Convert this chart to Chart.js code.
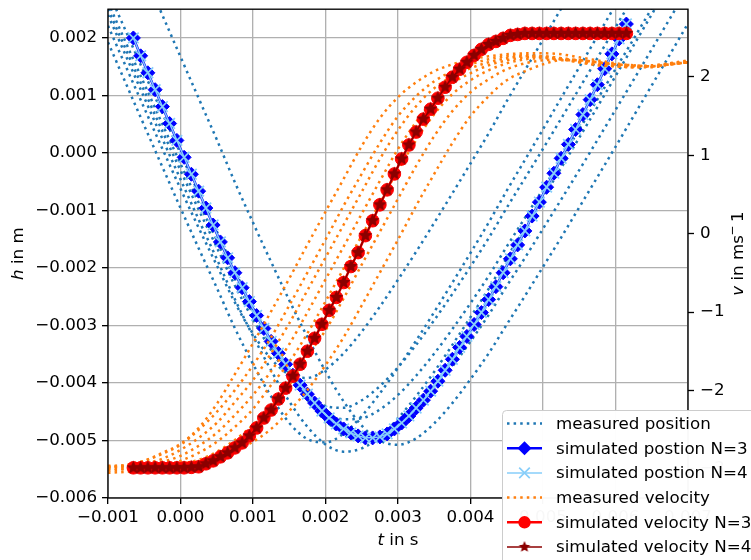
<!DOCTYPE html>
<html>
<head>
<meta charset="utf-8">
<script src="https://cdn.jsdelivr.net/npm/chart.js@4.4.1/dist/chart.umd.min.js"></script>
<style>
    html, body { margin: 0; padding: 0; background: #ffffff; }
    #grafico_queda { display: block; }
</style>
</head>
<body>
<canvas id="grafico_queda" width="751" height="560"></canvas>
<script>
/*Tempos das amostras (s)*/
const t_simulado = [
    -0.00065, -0.00055, -0.00045, -0.00035, -0.00025, -0.00015, -0.00005, 0.00005, 0.00015, 0.00025,
    0.00035, 0.00045, 0.00055, 0.00065, 0.00075, 0.00085, 0.00095, 0.00105, 0.00115, 0.00125,
    0.00135, 0.00145, 0.00155, 0.00165, 0.00175, 0.00185, 0.00195, 0.00205, 0.00215, 0.00225,
    0.00235, 0.00245, 0.00255, 0.00265, 0.00275, 0.00285, 0.00295, 0.00305, 0.00315, 0.00325,
    0.00335, 0.00345, 0.00355, 0.00365, 0.00375, 0.00385, 0.00395, 0.00405, 0.00415, 0.00425,
    0.00435, 0.00445, 0.00455, 0.00465, 0.00475, 0.00485, 0.00495, 0.00505, 0.00515, 0.00525,
    0.00535, 0.00545, 0.00555, 0.00565, 0.00575, 0.00585, 0.00595, 0.00605, 0.00615
];

const t_medido = [
    -0.001, -0.00075, -0.0005, -0.00025, 0, 0.00025, 0.0005, 0.00075, 0.001, 0.00125, 0.0015,
    0.00175, 0.002, 0.00225, 0.0025, 0.00275, 0.003, 0.00325, 0.0035, 0.00375, 0.004, 0.00425,
    0.0045, 0.00475, 0.005, 0.00525, 0.0055, 0.00575, 0.006, 0.00625, 0.0065, 0.00675, 0.007
];

/*Posição simulada (m)*/
const pos_sim_n3 = [
    0.00200, 0.001689, 0.001394, 0.001100, 0.000806, 0.000512, 0.000218, -0.000076, -0.000370, -0.000664,
    -0.000958, -0.001253, -0.001547, -0.001824, -0.002083, -0.002343, -0.002585, -0.002827, -0.003052, -0.003277,
    -0.003484, -0.003675, -0.003865, -0.004038, -0.004194, -0.004349, -0.004488, -0.004609, -0.004713, -0.004799,
    -0.004869, -0.004920, -0.004955, -0.004955, -0.004938, -0.004886, -0.004799, -0.004696, -0.004574, -0.004436,
    -0.004298, -0.004142, -0.003969, -0.003779, -0.003588, -0.003381, -0.003190, -0.002983, -0.002775, -0.002550,
    -0.002325, -0.002083, -0.001841, -0.001599, -0.001356, -0.001097, -0.000855, -0.000595, -0.000353, -0.000093,
    0.000149, 0.000408, 0.000668, 0.000927, 0.001187, 0.001464, 0.001723, 0.001983, 0.002242
];
const pos_sim_n4 = [
    0.00200, 0.001690, 0.001395, 0.001101, 0.000807, 0.000513, 0.000219, -0.000075, -0.000369, -0.000663,
    -0.000957, -0.001252, -0.001546, -0.001823, -0.002082, -0.002342, -0.002584, -0.002826, -0.003051, -0.003276,
    -0.003483, -0.003674, -0.003864, -0.004037, -0.004193, -0.004348, -0.004487, -0.004608, -0.004712, -0.004798,
    -0.004868, -0.004919, -0.004954, -0.004954, -0.004937, -0.004885, -0.004798, -0.004695, -0.004573, -0.004435,
    -0.004297, -0.004141, -0.003968, -0.003778, -0.003587, -0.003380, -0.003189, -0.002982, -0.002774, -0.002549,
    -0.002324, -0.002082, -0.001840, -0.001598, -0.001355, -0.001096, -0.000854, -0.000594, -0.000352, -0.000092,
    0.000150, 0.000409, 0.000669, 0.000928, 0.001188, 0.001465, 0.001724, 0.001984, 0.002243
];

/*Velocidade simulada (m/s)*/
const vel_sim_n3 = [
    -2.986, -2.986, -2.986, -2.986, -2.986, -2.986, -2.986, -2.986, -2.980, -2.973,
    -2.935, -2.897, -2.846, -2.795, -2.732, -2.668, -2.579, -2.478, -2.351, -2.249,
    -2.109, -1.970, -1.817, -1.665, -1.499, -1.334, -1.156, -0.978, -0.813, -0.623,
    -0.419, -0.241, -0.025, 0.165, 0.368, 0.559, 0.762, 0.953, 1.131, 1.296,
    1.461, 1.588, 1.728, 1.868, 1.995, 2.097, 2.186, 2.274, 2.351, 2.414,
    2.452, 2.491, 2.529, 2.541, 2.554, 2.554, 2.554, 2.554, 2.554, 2.554,
    2.554, 2.554, 2.554, 2.554, 2.554, 2.554, 2.554, 2.554, 2.554
];
const vel_sim_n4 = [
    -2.986, -2.986, -2.986, -2.986, -2.986, -2.986, -2.986, -2.985, -2.979, -2.972,
    -2.934, -2.896, -2.845, -2.794, -2.731, -2.667, -2.578, -2.477, -2.350, -2.248,
    -2.108, -1.969, -1.816, -1.664, -1.498, -1.333, -1.155, -0.977, -0.812, -0.622,
    -0.418, -0.240, -0.024, 0.166, 0.369, 0.560, 0.763, 0.954, 1.132, 1.297,
    1.462, 1.589, 1.729, 1.869, 1.996, 2.098, 2.187, 2.275, 2.352, 2.415,
    2.453, 2.492, 2.530, 2.542, 2.555, 2.555, 2.555, 2.555, 2.555, 2.555,
    2.555, 2.555, 2.555, 2.555, 2.555, 2.555, 2.555, 2.555, 2.555
];

/*Posições medidas (m), uma lista por ensaio*/
const pos_med_1 = [0.001927, 0.001199, 0.000476, -0.000242, -0.000957, -0.001657, -0.002344, -0.003047, -0.003670, -0.004234, -0.004694, -0.004974, -0.005033, -0.004879, -0.004574, -0.004180, -0.003737, -0.003263, -0.002765, -0.002256, -0.001739, -0.001211, -0.000656, -0.000123, 0.000413, 0.000955, 0.001491, 0.002031, 0.002576, 0.003119, 0.003664, 0.004208, 0.004753];
const pos_med_2 = [0.002401, 0.001680, 0.000962, 0.000247, -0.000458, -0.001157, -0.001841, -0.002543, -0.003183, -0.003780, -0.004320, -0.004761, -0.005069, -0.005194, -0.005138, -0.004934, -0.004616, -0.004230, -0.003803, -0.003337, -0.002855, -0.002362, -0.001824, -0.001308, -0.000785, -0.000260, 0.000266, 0.000799, 0.001336, 0.001872, 0.002410, 0.002950, 0.003490];
const pos_med_3 = [0.002503, 0.001789, 0.001081, 0.000381, -0.000304, -0.000984, -0.001638, -0.002305, -0.002893, -0.003427, -0.003881, -0.004215, -0.004403, -0.004431, -0.004301, -0.004055, -0.003725, -0.003337, -0.002907, -0.002450, -0.001976, -0.001481, -0.000953, -0.000441, 0.000073, 0.000597, 0.001121, 0.001651, 0.002183, 0.002718, 0.003251, 0.003787, 0.004329];
const pos_med_4 = [0.002619, 0.001908, 0.001201, 0.000503, -0.000187, -0.000860, -0.001519, -0.002189, -0.002789, -0.003339, -0.003829, -0.004227, -0.004500, -0.004632, -0.004614, -0.004462, -0.004208, -0.003874, -0.003488, -0.003062, -0.002612, -0.002140, -0.001628, -0.001130, -0.000626, -0.000111, 0.000408, 0.000931, 0.001457, 0.001983, 0.002516, 0.003048, 0.003585];
const pos_med_5 = [0.002820, 0.002106, 0.001393, 0.000690, -0.000007, -0.000694, -0.001363, -0.002055, -0.002685, -0.003277, -0.003818, -0.004289, -0.004657, -0.004898, -0.004990, -0.004929, -0.004747, -0.004462, -0.004112, -0.003713, -0.003277, -0.002817, -0.002313, -0.001825, -0.001318, -0.000811, -0.000298, 0.000223, 0.000749, 0.001273, 0.001803, 0.002337, 0.002870];
const pos_med_6 = [0.004587, 0.003853, 0.003125, 0.002398, 0.001673, 0.000952, 0.000235, -0.000510, -0.001211, -0.001896, -0.002561, -0.003201, -0.003796, -0.004320, -0.004742, -0.005004, -0.005076, -0.004962, -0.004702, -0.004350, -0.003934, -0.003486, -0.002983, -0.002488, -0.001981, -0.001471, -0.000946, -0.000420, 0.000107, 0.000642, 0.001175, 0.001711, 0.002251];
const pos_med_7 = [0.002213, 0.001493, 0.000780, 0.000074, -0.000623, -0.001299, -0.001953, -0.002599, -0.003145, -0.003581, -0.003853, -0.003912, -0.003766, -0.003483, -0.003106, -0.002673, -0.002204, -0.001718, -0.001215, -0.000702, -0.000183, 0.000341, 0.000901, 0.001436, 0.001972, 0.002509, 0.003050, 0.003590, 0.004130, 0.004675, 0.005218, 0.005761, 0.006310];

/*Velocidades medidas (m/s)*/
const vel_med_1 = [-2.973, -2.948, -2.897, -2.795, -2.681, -2.478, -2.173, -1.792, -1.398, -0.991, -0.572, -0.140, 0.280, 0.699, 1.118, 1.474, 1.741, 1.931, 2.071, 2.160, 2.224, 2.262, 2.288, 2.300, 2.300, 2.288, 2.249, 2.211, 2.173, 2.148, 2.135, 2.173, 2.211];
const vel_med_2 = [-2.986, -2.960, -2.897, -2.808, -2.693, -2.503, -2.274, -1.995, -1.677, -1.321, -0.915, -0.496, -0.076, 0.356, 0.762, 1.156, 1.499, 1.753, 1.944, 2.071, 2.160, 2.224, 2.262, 2.275, 2.262, 2.237, 2.211, 2.186, 2.160, 2.135, 2.148, 2.173, 2.199];
const vel_med_3 = [-3.024, -2.999, -2.935, -2.871, -2.757, -2.605, -2.414, -2.147, -1.868, -1.525, -1.143, -0.724, -0.305, 0.114, 0.534, 0.953, 1.321, 1.626, 1.855, 2.008, 2.110, 2.186, 2.237, 2.262, 2.249, 2.224, 2.186, 2.148, 2.135, 2.122, 2.122, 2.160, 2.186];
const vel_med_4 = [-2.973, -2.973, -2.948, -2.909, -2.833, -2.706, -2.541, -2.313, -2.058, -1.753, -1.410, -1.004, -0.584, -0.165, 0.254, 0.673, 1.080, 1.423, 1.715, 1.919, 2.046, 2.148, 2.211, 2.249, 2.262, 2.237, 2.199, 2.160, 2.135, 2.122, 2.135, 2.160, 2.186];
const vel_med_5 = [-3.049, -3.037, -3.011, -2.973, -2.897, -2.795, -2.655, -2.465, -2.236, -1.931, -1.639, -1.271, -0.864, -0.445, -0.025, 0.394, 0.813, 1.194, 1.525, 1.779, 1.957, 2.084, 2.173, 2.224, 2.237, 2.224, 2.186, 2.160, 2.148, 2.135, 2.135, 2.160, 2.186];
const vel_med_6 = [-2.999, -2.999, -2.986, -2.960, -2.935, -2.884, -2.782, -2.630, -2.439, -2.211, -1.931, -1.563, -1.232, -0.826, -0.394, 0.025, 0.445, 0.864, 1.245, 1.563, 1.804, 1.969, 2.097, 2.173, 2.211, 2.224, 2.211, 2.186, 2.160, 2.135, 2.135, 2.160, 2.186];
const vel_med_7 = [-2.960, -2.960, -2.960, -2.960, -2.948, -2.922, -2.871, -2.770, -2.655, -2.490, -2.262, -1.995, -1.677, -1.321, -0.915, -0.496, -0.076, 0.356, 0.762, 1.156, 1.499, 1.753, 1.957, 2.071, 2.160, 2.211, 2.211, 2.186, 2.160, 2.148, 2.135, 2.160, 2.186];

/*Rótulos e marcas dos eixos*/
const nomes_series = [
    'measured position',
    'simulated postion N=3',
    'simulated postion N=4',
    'measured velocity',
    'simulated velocity N=3',
    'simulated velocity N=4'
];
const marcas_t = [-0.001, 0, 0.001, 0.002, 0.003, 0.004, 0.005, 0.006, 0.007];
const marcas_h = [-0.006, -0.005, -0.004, -0.003, -0.002, -0.001, 0, 0.001, 0.002];
const marcas_v = [-3, -2, -1, 0, 1, 2];

const FONTE = '"DejaVu Sans", sans-serif';
const TAMANHO = 16.7;
const AZUL_MEDIDO = '#1f77b4';
const LARANJA_MEDIDO = '#ff7f0e';
const AZUL_CLARO = '#87cefa';
const VERMELHO_ESCURO = '#8b0000';
const PONTILHADO = [2.5, 4.1];

function menos(texto) {
    return String(texto).replace('-', '\u2212');
}

function pares(tempos, valores) {
    return tempos.map((t, i) => ({ x: t, y: valores[i] }));
}

function criarEstrela(raio, cor) {
    const c = document.createElement('canvas');
    const lado = Math.ceil(raio * 2 + 2);
    c.width = lado;
    c.height = lado;
    const g = c.getContext('2d');
    g.fillStyle = cor;
    g.beginPath();
    for (let i = 0; i < 10; i++) {
        const r = i % 2 === 0 ? raio : raio * 0.46;
        const ang = -Math.PI / 2 + i * Math.PI / 5;
        g.lineTo(lado / 2 + r * Math.cos(ang), lado / 2 + r * Math.sin(ang));
    }
    g.closePath();
    g.fill();
    return c;
}

const estrela = criarEstrela(7.2, VERMELHO_ESCURO);

/*Montagem dos datasets*/
const datasets_queda = [];

datasets_queda.push({
    label: nomes_series[5], yAxisID: 'y2', order: 0,
    data: pares(t_simulado, vel_sim_n4),
    borderColor: VERMELHO_ESCURO, borderWidth: 1.5,
    pointStyle: estrela, pointRadius: 6
});
datasets_queda.push({
    label: nomes_series[4], yAxisID: 'y2', order: 1,
    data: pares(t_simulado, vel_sim_n3),
    borderColor: 'red', borderWidth: 2.5,
    pointStyle: 'circle', pointRadius: 6.3,
    pointBackgroundColor: 'red', pointBorderColor: 'red', pointBorderWidth: 1
});

[vel_med_1, vel_med_2, vel_med_3, vel_med_4, vel_med_5, vel_med_6, vel_med_7].forEach(function (serie, i) {
    datasets_queda.push({
        label: nomes_series[3], yAxisID: 'y2', order: 2 + i * 0.01,
        data: pares(t_medido, serie),
        borderColor: LARANJA_MEDIDO, borderWidth: 2.5, borderDash: PONTILHADO,
        pointRadius: 0, cubicInterpolationMode: 'monotone', capBezierPoints: false
    });
});

datasets_queda.push({
    label: nomes_series[2], yAxisID: 'y', order: 3,
    data: pares(t_simulado, pos_sim_n4),
    borderColor: AZUL_CLARO, borderWidth: 1.5,
    pointStyle: 'crossRot', pointRadius: 7.5,
    pointBorderColor: AZUL_CLARO, pointBorderWidth: 1.7
});
datasets_queda.push({
    label: nomes_series[1], yAxisID: 'y', order: 4,
    data: pares(t_simulado, pos_sim_n3),
    borderColor: 'blue', borderWidth: 2.5,
    pointStyle: 'rectRot', pointRadius: 7,
    pointBackgroundColor: 'blue', pointBorderColor: 'blue', pointBorderWidth: 1
});

[pos_med_1, pos_med_2, pos_med_3, pos_med_4, pos_med_5, pos_med_6, pos_med_7].forEach(function (serie, i) {
    datasets_queda.push({
        label: nomes_series[0], yAxisID: 'y', order: 5 + i * 0.01,
        data: pares(t_medido, serie),
        borderColor: AZUL_MEDIDO, borderWidth: 2.5, borderDash: PONTILHADO,
        pointRadius: 0, cubicInterpolationMode: 'monotone', capBezierPoints: false
    });
});

/*Textos com partes em itálico / sobrescrito*/
function textoMisto(ctx, partes, x, y) {
    let total = 0;
    partes.forEach(function (p) {
        ctx.font = (p.italico ? 'italic ' : '') + (p.sup ? TAMANHO * 0.7 : TAMANHO) + 'px ' + FONTE;
        p.w = ctx.measureText(p.t).width;
        total += p.w;
    });
    let cx = x - total / 2;
    partes.forEach(function (p) {
        ctx.font = (p.italico ? 'italic ' : '') + (p.sup ? TAMANHO * 0.7 : TAMANHO) + 'px ' + FONTE;
        ctx.fillText(p.t, cx, y + (p.sup ? -6 : 0));
        cx += p.w;
    });
}

function desenharLegenda(ctx) {
    const x0 = 502, y0 = 410;
    ctx.save();
    ctx.fillStyle = 'rgba(255,255,255,0.97)';
    ctx.strokeStyle = '#cccccc';
    ctx.lineWidth = 1;
    ctx.beginPath();
    ctx.roundRect(x0 + 0.5, y0 + 0.5, 270, 170, 4);
    ctx.fill();
    ctx.stroke();

    const x1 = 507, x2 = 542, xm = (x1 + x2) / 2;
    const estilos = [
        { cor: AZUL_MEDIDO, larg: 2.5, tracejado: PONTILHADO },
        { cor: 'blue', larg: 2.5, marca: 'diamante' },
        { cor: AZUL_CLARO, larg: 1.5, marca: 'x' },
        { cor: LARANJA_MEDIDO, larg: 2.5, tracejado: PONTILHADO },
        { cor: 'red', larg: 2.5, marca: 'circulo' },
        { cor: VERMELHO_ESCURO, larg: 1.5, marca: 'estrela' }
    ];
    estilos.forEach(function (e, j) {
        const y = 423.5 + 24.7 * j;
        ctx.strokeStyle = e.cor;
        ctx.fillStyle = e.cor;
        ctx.lineWidth = e.larg;
        ctx.setLineDash(e.tracejado || []);
        ctx.beginPath();
        ctx.moveTo(x1, y);
        ctx.lineTo(x2, y);
        ctx.stroke();
        ctx.setLineDash([]);
        if (e.marca === 'diamante') {
            ctx.beginPath();
            ctx.moveTo(xm - 7, y); ctx.lineTo(xm, y - 7); ctx.lineTo(xm + 7, y); ctx.lineTo(xm, y + 7);
            ctx.closePath();
            ctx.fill();
        } else if (e.marca === 'x') {
            ctx.lineWidth = 1.7;
            ctx.beginPath();
            ctx.moveTo(xm - 5.3, y - 5.3); ctx.lineTo(xm + 5.3, y + 5.3);
            ctx.moveTo(xm - 5.3, y + 5.3); ctx.lineTo(xm + 5.3, y - 5.3);
            ctx.stroke();
        } else if (e.marca === 'circulo') {
            ctx.beginPath();
            ctx.arc(xm, y, 6.2, 0, Math.PI * 2);
            ctx.fill();
        } else if (e.marca === 'estrela') {
            const pequena = criarEstrela(6, VERMELHO_ESCURO);
            ctx.drawImage(pequena, xm - pequena.width / 2, y - pequena.height / 2);
        }
        ctx.fillStyle = '#000';
        ctx.font = TAMANHO + 'px ' + FONTE;
        ctx.textAlign = 'left';
        ctx.textBaseline = 'middle';
        ctx.fillText(nomes_series[j], 556, y + 1);
    });
    ctx.restore();
}

const plugin_extras = {
    id: 'extras',
    afterDatasetsDraw(chart) {
        const { ctx, chartArea: a } = chart;
        ctx.save();
        ctx.strokeStyle = '#000';
        ctx.lineWidth = 1.33;
        ctx.strokeRect(a.left, a.top, a.right - a.left, a.bottom - a.top);
        ctx.restore();
    },
    afterDraw(chart) {
        const { ctx, chartArea: a } = chart;
        const meio_y = (a.top + a.bottom) / 2;
        ctx.save();
        ctx.fillStyle = '#000';
        ctx.textAlign = 'left';
        ctx.textBaseline = 'middle';
        textoMisto(ctx, [{ t: 't', italico: true }, { t: ' in s' }], (a.left + a.right) / 2, 541);

        ctx.save();
        ctx.translate(19, meio_y);
        ctx.rotate(-Math.PI / 2);
        textoMisto(ctx, [{ t: 'h', italico: true }, { t: ' in m' }], 0, 0);
        ctx.restore();

        ctx.save();
        ctx.translate(739, meio_y);
        ctx.rotate(-Math.PI / 2);
        textoMisto(ctx, [{ t: 'v', italico: true }, { t: ' in ms' }, { t: '\u2212', sup: true }, { t: '\u20091' }], 0, 0);
        ctx.restore();
        ctx.restore();

        desenharLegenda(ctx);
    }
};

const fonte_marcas = { family: FONTE, size: TAMANHO };

function semFolga(s) {
    s.paddingTop = 0;
    s.paddingBottom = 0;
    s.paddingLeft = 0;
    s.paddingRight = 0;
}

const config_queda = {
    type: 'line',
    data: { datasets: datasets_queda },
    options: {
        responsive: false,
        animation: false,
        events: [],
        devicePixelRatio: 1,
        layout: { padding: { top: 7, left: 0, right: 0, bottom: 0 } },
        plugins: { legend: { display: false }, tooltip: { enabled: false } },
        elements: { line: { tension: 0, borderCapStyle: 'butt' } },
        scales: {
            x: {
                type: 'linear', min: -0.001, max: 0.007,
                afterBuildTicks: s => { s.ticks = marcas_t.map(v => ({ value: v })); },
                afterFit: s => { s.height = 62; semFolga(s); },
                grid: { color: '#b0b0b0', lineWidth: 1.33, tickColor: '#000', tickLength: 6, tickWidth: 1.33 },
                border: { display: false },
                ticks: {
                    color: '#000', font: fonte_marcas, padding: 4, maxRotation: 0, autoSkip: false,
                    callback: v => menos(Number(v).toFixed(3))
                }
            },
            y: {
                type: 'linear', position: 'left', min: -0.006, max: 0.0025,
                afterBuildTicks: s => { s.ticks = marcas_h.map(v => ({ value: v })); },
                afterFit: s => { s.width = 108; semFolga(s); },
                grid: { color: '#b0b0b0', lineWidth: 1.33, tickColor: '#000', tickLength: 6, tickWidth: 1.33 },
                border: { display: false },
                ticks: {
                    color: '#000', font: fonte_marcas, padding: 5, autoSkip: false,
                    callback: v => menos(Number(v).toFixed(3))
                }
            },
            y2: {
                type: 'linear', position: 'right', min: -3.371, max: 2.863,
                afterBuildTicks: s => { s.ticks = marcas_v.map(v => ({ value: v })); },
                afterFit: s => { s.width = 63; semFolga(s); },
                grid: { drawOnChartArea: false, tickColor: '#000', tickLength: 6, tickWidth: 1.33 },
                border: { display: false },
                ticks: {
                    color: '#000', font: fonte_marcas, padding: 6, autoSkip: false,
                    callback: v => menos(Math.round(v))
                }
            }
        }
    },
    plugins: [plugin_extras]
};

const grafico_queda = new Chart(
    document.getElementById('grafico_queda'),
    config_queda
);
</script>
</body>
</html>
